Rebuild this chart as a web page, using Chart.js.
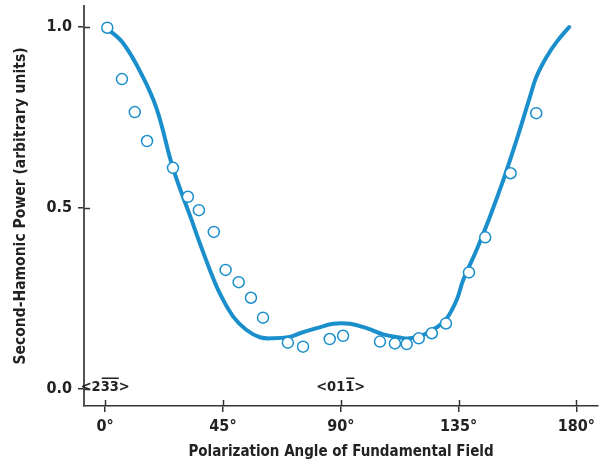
<!DOCTYPE html>
<html lang="en">
<head>
    <meta charset="UTF-8">
    <title>Second-Harmonic Power vs Polarization Angle</title>
    <script src="https://cdn.jsdelivr.net/npm/chart.js@4.4.1/dist/chart.umd.min.js"></script>
    <style>
        html, body {
            margin: 0;
            padding: 0;
            background: #fff;
        }
        .chart-wrapper {
            width: 600px;
            height: 464px;
            position: relative;
        }
    </style>
</head>
<body>
    <div class="chart-wrapper">
        <canvas id="shg-chart"></canvas>
    </div>

    <script>
        // Measured points (circles)
        const pointDeg = [0.8, 6.4, 11.3, 16.0, 25.9, 31.6, 35.8, 41.5, 46.0, 51.0, 55.7, 60.3, 69.8, 75.6, 85.8, 90.9,
                          105.0, 110.7, 115.2, 119.8, 124.8, 130.2, 139.0, 145.2, 154.9, 164.7];
        const pointPower = [0.998, 0.856, 0.765, 0.685, 0.611, 0.531, 0.494, 0.434, 0.329, 0.295, 0.252, 0.197, 0.128, 0.117,
                            0.138, 0.147, 0.131, 0.126, 0.124, 0.140, 0.154, 0.181, 0.322, 0.419, 0.596, 0.762];

        // Fitted curve
        const curveDeg = [0, 6.8, 14.4, 19.8, 25.9, 33.0, 36.2, 40.0, 43.8, 48.9, 54.0, 59.1, 64.2, 70.6, 74.4, 80.8, 87.1,
                          93.5, 99.9, 106.2, 112.6, 116.4, 121.5, 126.6, 130.5, 134.3, 136.8, 141.9, 147.0, 152.1, 157.2,
                          162.3, 164.8, 168.7, 172.5, 177.3];
        const curvePower = [1.0, 0.956, 0.862, 0.771, 0.610, 0.467, 0.402, 0.329, 0.264, 0.200, 0.163, 0.143, 0.140, 0.144,
                            0.154, 0.168, 0.180, 0.180, 0.168, 0.151, 0.142, 0.140, 0.149, 0.170, 0.195, 0.246, 0.301,
                            0.384, 0.476, 0.577, 0.688, 0.807, 0.863, 0.918, 0.959, 1.0];

        const xTicks = [0, 45, 90, 135, 180];
        const yTicks = [0, 0.5, 1.0];

        // Crystal direction labels, {..} = overlined digits
        const directionLabels = ['<2{33}>', '<01{1}>'];
        const directionDeg = [0, 90];

        const blue = '#1b8fcb';
        const fontFamily = "'Liberation Sans Narrow', 'DejaVu Sans Condensed', 'Liberation Sans', sans-serif";

        Chart.defaults.font.family = fontFamily;
        Chart.defaults.font.weight = 'bold';
        Chart.defaults.color = '#222';

        // Ticks that cross the axis line + direction labels
        const extrasPlugin = {
            id: 'extras',
            afterDraw(chart) {
                const ctx = chart.ctx;
                const xs = chart.scales.x;
                const ys = chart.scales.y;
                ctx.save();
                ctx.strokeStyle = '#333';
                ctx.lineWidth = 1.5;
                xTicks.forEach(v => {
                    const px = Math.round(xs.getPixelForValue(v)) + 0.5;
                    ctx.beginPath();
                    ctx.moveTo(px, ys.bottom);
                    ctx.lineTo(px, ys.bottom - 6);
                    ctx.stroke();
                });
                yTicks.forEach(v => {
                    const py = Math.round(ys.getPixelForValue(v)) + 0.5;
                    ctx.beginPath();
                    ctx.moveTo(xs.left, py);
                    ctx.lineTo(xs.left + 6, py);
                    ctx.stroke();
                });

                ctx.font = 'bold 14.5px ' + fontFamily;
                ctx.fillStyle = '#222';
                ctx.textBaseline = 'middle';
                ctx.textAlign = 'left';
                directionLabels.forEach((label, i) => {
                    const parts = label.split(/([{}])/).filter(p => p !== '');
                    let bar = false;
                    const pieces = [];
                    parts.forEach(p => {
                        if (p === '{') bar = true;
                        else if (p === '}') bar = false;
                        else pieces.push({ text: p, bar: bar });
                    });
                    const total = pieces.reduce((s, p) => s + ctx.measureText(p.text).width, 0);
                    let x = xs.getPixelForValue(directionDeg[i]) - total / 2;
                    const y = ys.getPixelForValue(0) - 2;
                    pieces.forEach(p => {
                        const w = ctx.measureText(p.text).width;
                        ctx.fillText(p.text, x, y);
                        if (p.bar) {
                            ctx.fillRect(x + 1, y - 9.5, w - 1, 1.5);
                        }
                        x += w;
                    });
                });
                ctx.restore();
            }
        };

        new Chart(document.getElementById('shg-chart'), {
            type: 'scatter',
            data: {
                datasets: [
                    {
                        label: 'Measured',
                        data: pointDeg.map((d, i) => ({ x: d, y: pointPower[i] })),
                        pointRadius: 5.5,
                        pointBorderWidth: 1.5,
                        pointBorderColor: blue,
                        pointBackgroundColor: '#fff',
                        showLine: false
                    },
                    {
                        label: 'Fit',
                        data: curveDeg.map((d, i) => ({ x: d, y: curvePower[i] })),
                        showLine: true,
                        borderColor: blue,
                        borderWidth: 4,
                        pointRadius: 0,
                        tension: 0.4,
                        borderCapStyle: 'round'
                    }
                ]
            },
            options: {
                responsive: true,
                maintainAspectRatio: false,
                animation: false,
                layout: {
                    autoPadding: false,
                    padding: { top: 6, right: 2, left: 0, bottom: 0 }
                },
                plugins: {
                    legend: { display: false },
                    tooltip: { enabled: false }
                },
                scales: {
                    x: {
                        type: 'linear',
                        min: -8.1,
                        max: 188.3,
                        afterBuildTicks: s => { s.ticks = xTicks.map(v => ({ value: v })); },
                        afterFit: s => { s.height = 58; s.paddingLeft = 0; s.paddingRight = 0; },
                        border: { color: '#333', width: 1.5 },
                        grid: { drawOnChartArea: false, tickLength: 6, color: '#333', lineWidth: 1.5 },
                        ticks: {
                            padding: 5,
                            font: { size: 16 },
                            callback: v => v + '°'
                        },
                        title: {
                            display: true,
                            text: 'Polarization Angle of Fundamental Field',
                            font: { size: 15 },
                            padding: { top: 0, bottom: 3 }
                        }
                    },
                    y: {
                        type: 'linear',
                        min: -0.047,
                        max: 1.058,
                        afterBuildTicks: s => { s.ticks = yTicks.map(v => ({ value: v })); },
                        afterFit: s => { s.width = 84; s.paddingTop = 0; s.paddingBottom = 0; },
                        border: { color: '#555', width: 2 },
                        grid: { drawOnChartArea: false, tickLength: 6, color: '#333', lineWidth: 1.5 },
                        ticks: {
                            padding: 6,
                            font: { size: 16 },
                            callback: v => v.toFixed(1)
                        },
                        title: {
                            display: true,
                            text: 'Second-Hamonic Power (arbitrary units)',
                            font: { size: 15.5 },
                            padding: { top: 12, bottom: 0 }
                        }
                    }
                }
            },
            plugins: [extrasPlugin]
        });
    </script>
</body>
</html>
